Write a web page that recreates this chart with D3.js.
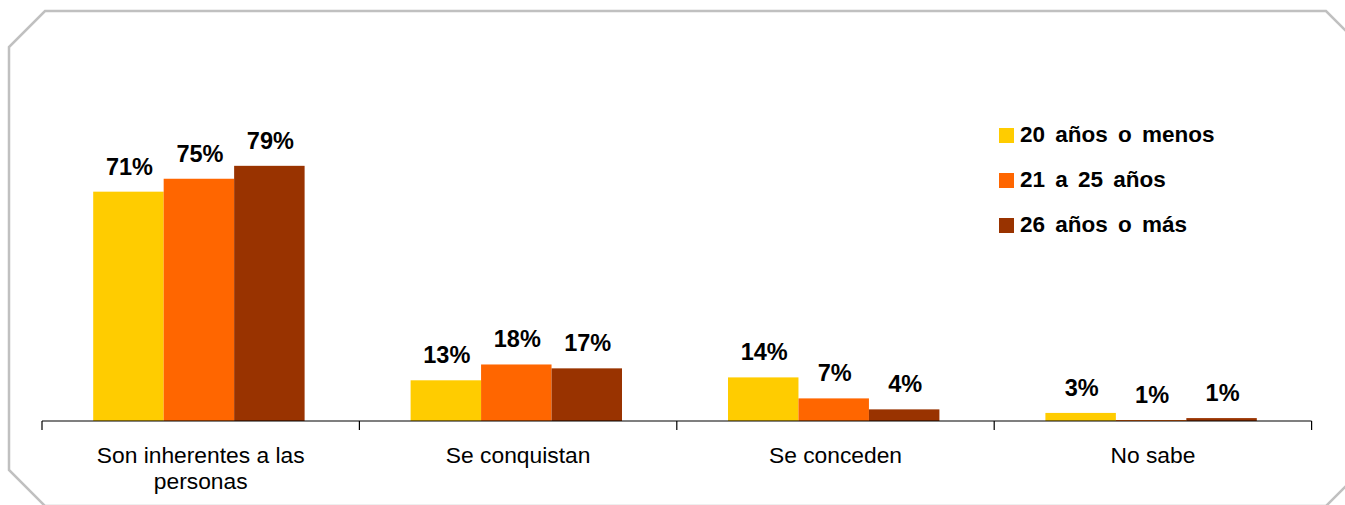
<!DOCTYPE html>
<html>
<head>
<meta charset="utf-8">
<script src="https://cdn.jsdelivr.net/npm/d3@7"></script>
<style>
  body { margin: 0; background: #fff; }
  text { font-family: "Liberation Sans", Arial, sans-serif; }
</style>
</head>
<body>
<div id="chart-area"></div>
<script>
// Categories and series
var categories = ["Son inherentes a las personas", "Se conquistan", "Se conceden", "No sabe"];
var series = ["20 años o menos", "21 a 25 años", "26 años o más"];
var colors = ["#FFCC00", "#FF6600", "#993300"];

// bar heights (percent)
var menos20 = [71, 12.6, 13.5, 2.5];
var de21a25 = [75, 17.5, 7.0, 0.3];
var mas26 = [79, 16.3, 3.6, 0.9];

// printed labels
var labels20 = ["71%", "13%", "14%", "3%"];
var labels21 = ["75%", "18%", "7%", "1%"];
var labels26 = ["79%", "17%", "4%", "1%"];

var values = [menos20, de21a25, mas26];
var labels = [labels20, labels21, labels26];

var width = 1345, height = 505;

var svg = d3.select("#chart-area").append("svg")
    .attr("width", width)
    .attr("height", height);

// frame with cut corners
var frame = [[45,11],[1326,11],[1362,47],[1362,470],[1326,506],[45,506],[9,470],[9,47]];
svg.append("polygon")
    .attr("points", frame.map(function(p) { return p.join(","); }).join(" "))
    .attr("fill", "none")
    .attr("stroke", "#c0c0c0")
    .attr("stroke-width", 2.5);

var x0 = d3.scaleBand().domain(categories).range([42, 1311.6]).paddingInner(0).paddingOuter(0);
var x1 = d3.scaleBand().domain(series).range([51.2, 262.6]);
var y = d3.scaleLinear().domain([0, 100]).range([421, 98]);

// flatten
var data = [];
series.forEach(function(s, i) {
    categories.forEach(function(c, j) {
        data.push({cat: c, serie: s, value: values[i][j], label: labels[i][j], color: colors[i]});
    });
});

var g = svg.append("g");

g.selectAll("rect.bar")
    .data(data)
    .enter().append("rect")
    .attr("class", "bar")
    .attr("x", function(d) { return x0(d.cat) + x1(d.serie); })
    .attr("width", x1.bandwidth())
    .attr("y", function(d) { return y(d.value); })
    .attr("height", function(d) { return y(0) - y(d.value); })
    .attr("fill", function(d) { return d.color; });

g.selectAll("text.val")
    .data(data)
    .enter().append("text")
    .attr("class", "val")
    .attr("x", function(d) { return x0(d.cat) + x1(d.serie) + x1.bandwidth() / 2 + 1; })
    .attr("y", function(d) { return y(d.value) - 17; })
    .attr("text-anchor", "middle")
    .attr("font-size", "23.5px")
    .attr("font-weight", "bold")
    .attr("fill", "#000")
    .text(function(d) { return d.label; });

// X axis
var xAxisGroup = svg.append("g")
    .attr("class", "x axis")
    .attr("transform", "translate(0, 421)");

var bottomAxis = d3.axisBottom(x0).tickSize(0).tickFormat("");
xAxisGroup.call(bottomAxis);
xAxisGroup.select(".domain").remove();
xAxisGroup.append("line")
    .attr("x1", 42).attr("x2", 1311.6)
    .attr("stroke", "#000").attr("stroke-width", 1.2);
var edges = categories.map(function(c) { return x0(c); }).concat([x0.range()[1]]);
xAxisGroup.selectAll("line.edge")
    .data(edges)
    .enter().append("line")
    .attr("class", "edge")
    .attr("x1", function(d) { return d; })
    .attr("x2", function(d) { return d; })
    .attr("y1", 0).attr("y2", 9)
    .attr("stroke", "#000").attr("stroke-width", 1.2);

// category labels, wrapped
var catLines = {
    "Son inherentes a las personas": ["Son inherentes a las", "personas"]
};
categories.forEach(function(c) {
    var lines = catLines[c] || [c];
    var t = svg.append("text")
        .attr("x", x0(c) + x0.bandwidth() / 2)
        .attr("y", 463)
        .attr("text-anchor", "middle")
        .attr("font-size", "22.8px")
        .attr("fill", "#000");
    lines.forEach(function(l, k) {
        t.append("tspan")
            .attr("x", x0(c) + x0.bandwidth() / 2)
            .attr("dy", k === 0 ? 0 : 26)
            .text(l);
    });
});

// Legend
var legend = svg.append("g").attr("transform", "translate(999, 128)");
series.forEach(function(s, i) {
    legend.append("rect")
        .attr("x", 0).attr("y", i * 45)
        .attr("width", 15).attr("height", 15)
        .attr("fill", colors[i]);
    legend.append("text")
        .attr("x", 21).attr("y", i * 45 + 14)
        .attr("font-size", "22.5px")
        .attr("font-weight", "bold")
        .attr("fill", "#000")
        .style("word-spacing", "4px")
        .text(s);
});
</script>
</body>
</html>
